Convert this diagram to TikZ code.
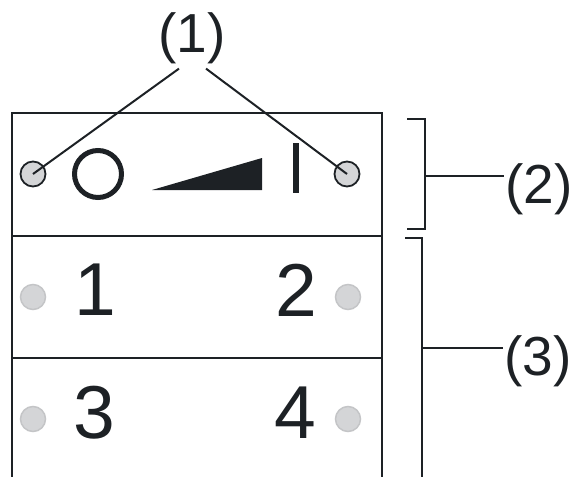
\documentclass[tikz,border=0pt]{standalone}
\usepackage{fontspec}
\setmainfont{Liberation Sans}
\usepackage{tikz}
\definecolor{dark}{HTML}{1D2125}
\definecolor{ledfill}{HTML}{D4D5D7}
\definecolor{ledline}{HTML}{C4C5C7}
\begin{document}
\begin{tikzpicture}[x=1pt,y=-1pt,line width=2pt,draw=dark,
    every node/.style={inner sep=0,text=dark},
    housing/.style={line width=2.5pt},
    ledtop/.style={circle,minimum size=25pt,fill=ledfill,draw=dark,line width=1.8pt},
    led/.style={circle,minimum size=25pt,fill=ledfill,draw=ledline,line width=1.5pt},
    digit/.style={font=\fontsize{75}{75}\selectfont},
    callout/.style={font=\fontsize{55}{55}\selectfont}]
        \useasboundingbox (0,0) rectangle (572,476);
        % housing
        \draw[housing] (12,477) -- (12,113) -- (382,113) -- (382,477);
        \draw[housing] (12,236) -- (382,236) (12,358) -- (382,358);
        % top row symbols
        \draw[line width=5pt] (98,174) circle (23.5);
        \fill[dark] (152,190) -- (262,158) -- (262,190) -- cycle;
        \fill[dark] (293,143) rectangle (299,193);
        \node[ledtop] (ledA) at (33,174) {};
        \node[ledtop] (ledB) at (347,174) {};
        % key rows
        \node[led] (led1) at (33,297) {};
        \node[led] (led2) at (348,297) {};
        \node[led] (led3) at (33,419) {};
        \node[led] (led4) at (348,419) {};
        \node[digit] (k1) at (95,290) {1};
        \node[digit] (k2) at (296,290) {2};
        \node[digit] (k3) at (94,413) {3};
        \node[digit] (k4) at (295,413) {4};
        % callouts
        \node[callout] (lab1) at (192,38) {(1)};
        \node[callout] (lab2) at (539,189) {(2)};
        \node[callout] (lab3) at (538,361) {(3)};
        \draw ([xshift=-13pt,yshift=-4pt]lab1.south) -- (ledA.center);
        \draw ([xshift=14pt,yshift=-4pt]lab1.south) -- (ledB.center);
        \coordinate (b2) at (425,176);
        \coordinate (b3) at (422,348);
        \draw (407,119) -- (425,119) -- (425,229) -- (407,229);
        \draw (b2) -- (b2 -| lab2.west);
        \draw (405,238) -- (422,238) -- (422,477);
        \draw (b3) -- (b3 -| lab3.west);
      \end{tikzpicture}
\end{document}
